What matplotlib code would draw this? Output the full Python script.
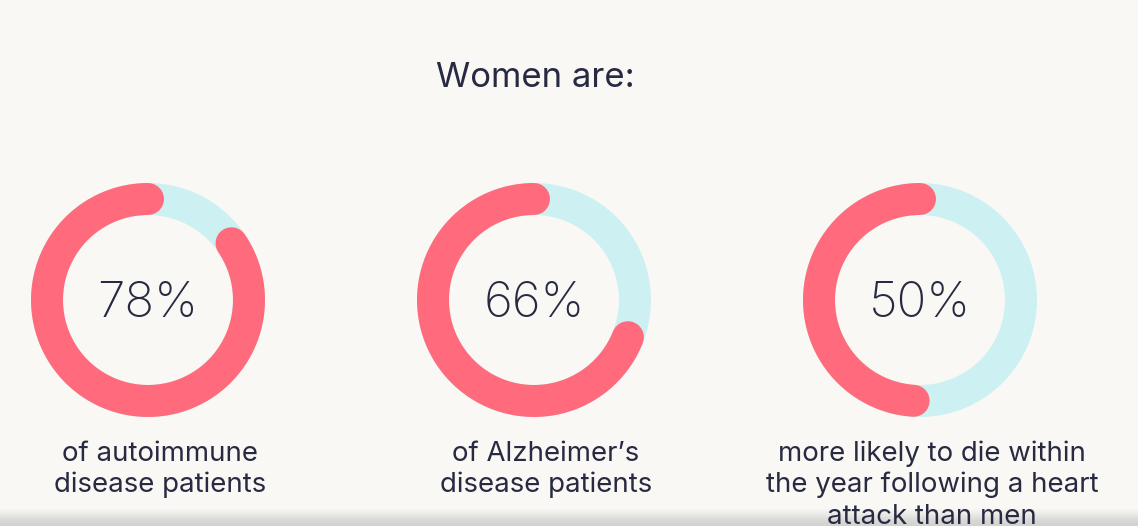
import numpy as np
import matplotlib
matplotlib.use("Agg")
import matplotlib.pyplot as plt
from matplotlib.patches import Wedge
from matplotlib.colors import LinearSegmentedColormap

# ---- data ----
title = "Women are:"
pct_labels = ["78%", "66%", "50%"]
arc_share = [0.845, 0.69, 0.49]          # share of the ring drawn in red
captions = [
    ["of autoimmune", "disease patients"],
    ["of Alzheimer\u2019s", "disease patients"],
    ["more likely to die within", "the year following a heart", "attack than men"],
]

# ---- style ----
W, H = 1138, 526
BG = "#f9f8f4"
RED = "#ff6b7c"
BLUE = "#cdf0f3"
TXT = "#282a42"
FONT = ["Inter", "DejaVu Sans"]

centers_x = [148, 534, 920]
center_y_img = 300
r_out, ring_w = 117, 32

fig = plt.figure(figsize=(W / 100, H / 100), dpi=100)
fig.patch.set_facecolor(BG)
ax = fig.add_axes([0, 0, 1, 1])
ax.set_xlim(0, W)
ax.set_ylim(0, H)
ax.axis("off")
ax.set_facecolor(BG)

def Y(y_img):
    return H - y_img

# title
ax.text(535, Y(87), title, ha="center", va="baseline", fontsize=25, color=TXT, family=FONT)

lw_pt = ring_w * 72 / 100
r_mid = r_out - ring_w / 2
for i, cx in enumerate(centers_x):
    cy = Y(center_y_img)
    ax.add_patch(Wedge((cx, cy), r_out, 0, 360, width=ring_w, facecolor=BLUE, edgecolor="none", zorder=1))
    th = np.deg2rad(np.linspace(90, 90 + 360 * arc_share[i], 400))
    ax.plot(cx + r_mid * np.cos(th), cy + r_mid * np.sin(th), color=RED, lw=lw_pt,
            solid_capstyle="round", zorder=2)
    ax.text(cx, Y(317), pct_labels[i], ha="center", va="baseline", fontsize=35.5,
            color=TXT, family=FONT, fontweight="light", zorder=3)
    for j, line in enumerate(captions[i]):
        ax.text(cx + 12, Y(461 + 31.5 * j), line, ha="center", va="baseline", fontsize=19.9,
                color=TXT, family=FONT, zorder=5)

# bottom shadow band
cmap = LinearSegmentedColormap.from_list("band", [BG, "#ebebe8", "#d9d9d7", "#d2d2d0"])
grad = np.linspace(0, 1, 64).reshape(-1, 1)
ax.imshow(grad, extent=[0, W, Y(526), Y(508)], origin="upper", cmap=cmap, aspect="auto", zorder=4)
ax.set_xlim(0, W)
ax.set_ylim(0, H)

fig.savefig("out.png", dpi=100, facecolor=BG)
